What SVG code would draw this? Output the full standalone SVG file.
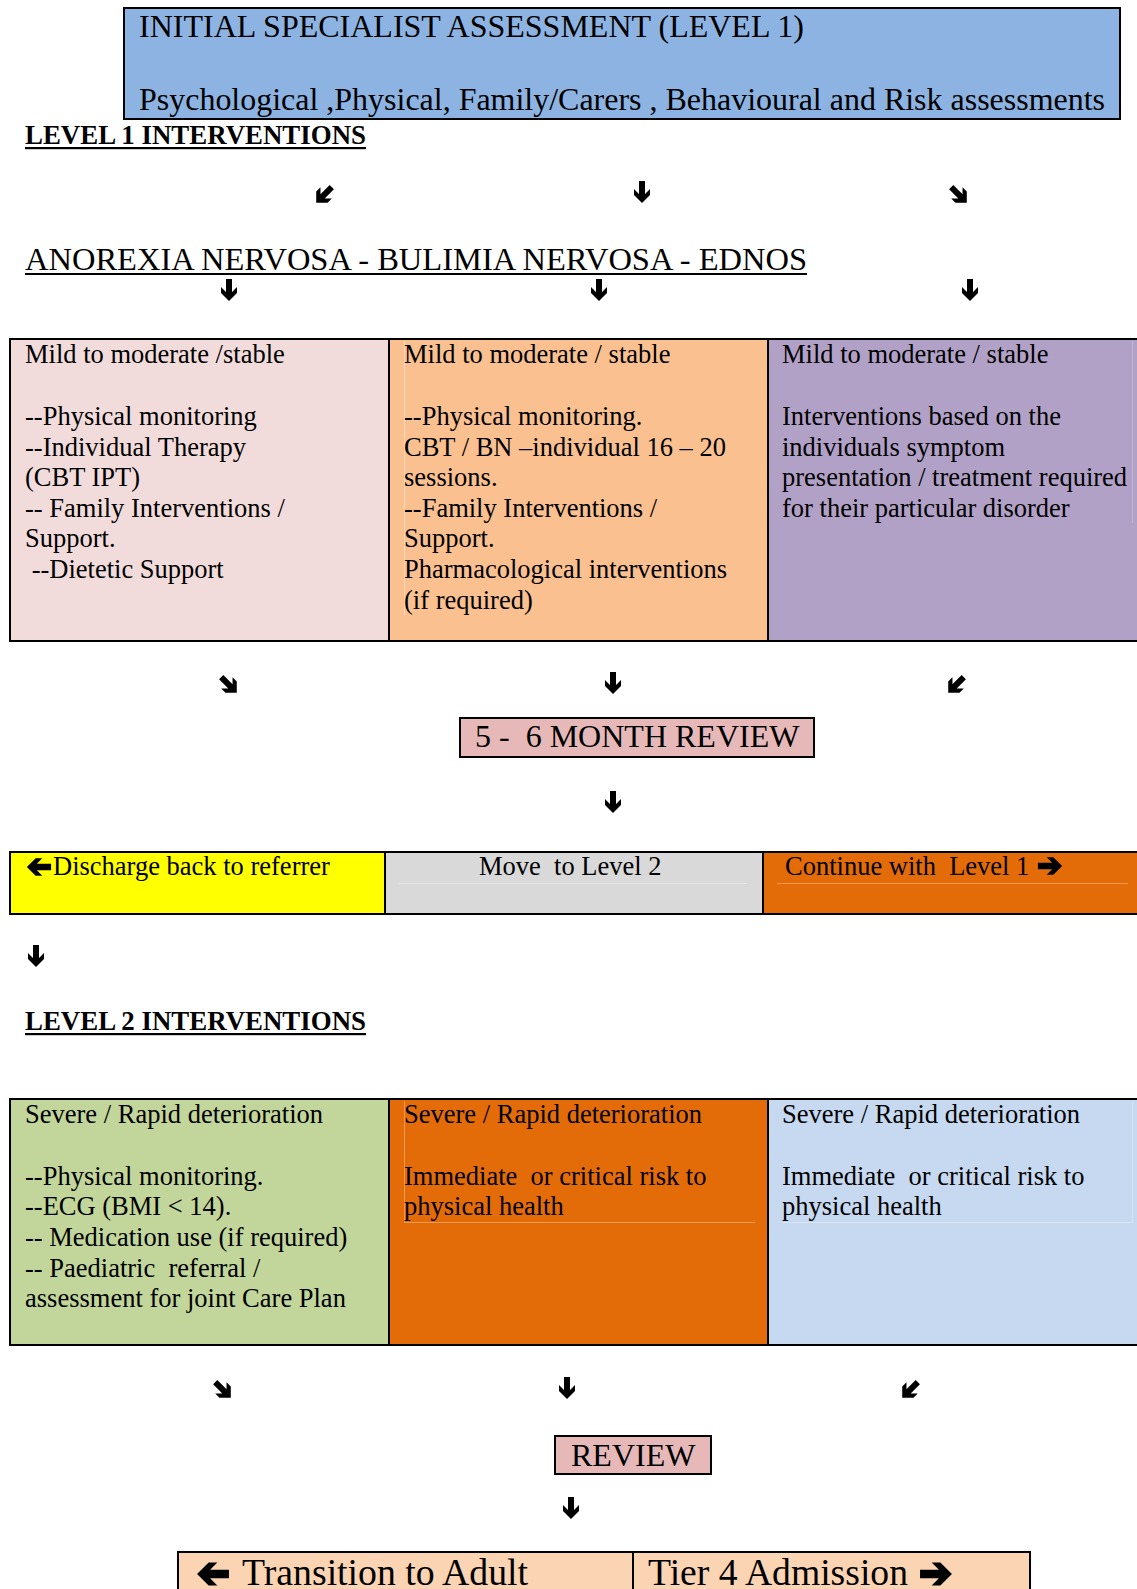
<svg xmlns="http://www.w3.org/2000/svg" xmlns:xlink="http://www.w3.org/1999/xlink" width="1137" height="1589" viewBox="0 0 1137 1589" xml:space="preserve">
<defs>
<style>
text{font-family:"Liberation Serif","Times New Roman",serif;fill:#000;white-space:pre}
.t{font-size:26.5px}
.big{font-size:32px}
.huge{font-size:37.5px}
.bold{font-size:27px;font-weight:bold}
.cell{stroke:#000;stroke-width:2}
.faint{fill:none;stroke-width:1}
</style>
<path id="arw" d="M-3,-11 H3 V2 L8,-3 V3 L0,11 L-8,3 V-3 L-3,2 Z" fill="#000"/>
</defs>
<rect width="1137" height="1589" fill="#fff"/>

<g id="initial-assessment">
<rect class="cell" x="124" y="8" width="996" height="111" fill="#8db3e2"/>
<text class="big" x="139" y="37">INITIAL SPECIALIST ASSESSMENT (LEVEL 1)</text>
<text class="big" x="139" y="110" textLength="966" lengthAdjust="spacingAndGlyphs">Psychological ,Physical, Family/Carers , Behavioural and Risk assessments</text>
</g>

<g id="level1-heading">
<text class="bold" x="25" y="144" textLength="341" lengthAdjust="spacingAndGlyphs">LEVEL 1 INTERVENTIONS</text>
<rect x="25" y="147" width="341" height="2.2" fill="#000"/>
</g>

<g id="disorders">
<text class="big" x="25" y="270" textLength="782" lengthAdjust="spacingAndGlyphs">ANOREXIA NERVOSA - BULIMIA NERVOSA - EDNOS</text>
<rect x="25" y="273" width="782" height="2" fill="#000"/>
</g>

<g id="level1-mild-an">
<rect class="cell" x="10" y="339" width="379" height="302" fill="#f2dcdb"/>
<text class="t" x="25" y="363">Mild to moderate /stable</text>
<text class="t" x="25" y="425">--Physical monitoring</text>
<text class="t" x="25" y="456">--Individual Therapy</text>
<text class="t" x="25" y="486">(CBT IPT)</text>
<text class="t" x="25" y="517">-- Family Interventions /</text>
<text class="t" x="25" y="547">Support.</text>
<text class="t" x="25" y="578"> --Dietetic Support</text>
</g>

<g id="level1-mild-bn">
<rect class="cell" x="389" y="339" width="379" height="302" fill="#fac090"/>
<line class="faint" x1="404.5" y1="341" x2="404.5" y2="615" stroke="#fcd9b8"/>
<text class="t" x="404" y="363">Mild to moderate / stable</text>
<text class="t" x="404" y="425">--Physical monitoring.</text>
<text class="t" x="404" y="456">CBT / BN –individual 16 – 20</text>
<text class="t" x="404" y="486">sessions.</text>
<text class="t" x="404" y="517">--Family Interventions /</text>
<text class="t" x="404" y="547">Support.</text>
<text class="t" x="404" y="578">Pharmacological interventions</text>
<text class="t" x="404" y="609">(if required)</text>
</g>

<g id="level1-mild-ednos">
<rect class="cell" x="768" y="339" width="380" height="302" fill="#b2a1c7"/>
<line class="faint" x1="1132.5" y1="341" x2="1132.5" y2="523" stroke="#c3b6d4"/>
<text class="t" x="782" y="363">Mild to moderate / stable</text>
<text class="t" x="782" y="425">Interventions based on the</text>
<text class="t" x="782" y="456">individuals symptom</text>
<text class="t" x="782" y="486">presentation / treatment required</text>
<text class="t" x="782" y="517">for their particular disorder</text>
</g>

<g id="review-6-month">
<rect class="cell" x="460" y="718" width="354" height="39" fill="#e6b9b8"/>
<text class="big" x="475" y="747">5 -  6 MONTH REVIEW</text>
</g>

<g id="outcome-discharge">
<rect class="cell" x="10" y="852" width="375" height="62" fill="#ffff00"/>
<text class="t" x="53" y="875">Discharge back to referrer</text>
</g>

<g id="outcome-level2">
<rect class="cell" x="385" y="852" width="378" height="62" fill="#d9d9d9"/>
<line class="faint" x1="399" y1="883.5" x2="747" y2="883.5" stroke="#e6e6e6"/>
<text class="t" x="479" y="875">Move  to Level 2</text>
</g>

<g id="outcome-continue">
<rect class="cell" x="763" y="852" width="385" height="62" fill="#e36c09"/>
<line class="faint" x1="777" y1="883.5" x2="1128" y2="883.5" stroke="#ee9a55"/>
<text class="t" x="785" y="875">Continue with  Level 1</text>
</g>

<g id="level2-heading">
<text class="bold" x="25" y="1030" textLength="341" lengthAdjust="spacingAndGlyphs">LEVEL 2 INTERVENTIONS</text>
<rect x="25" y="1033" width="341" height="2.2" fill="#000"/>
</g>

<g id="level2-severe-an">
<rect class="cell" x="10" y="1099" width="379" height="246" fill="#c2d69b"/>
<text class="t" x="25" y="1123">Severe / Rapid deterioration</text>
<text class="t" x="25" y="1185">--Physical monitoring.</text>
<text class="t" x="25" y="1215">--ECG (BMI &lt; 14).</text>
<text class="t" x="25" y="1246">-- Medication use (if required)</text>
<text class="t" x="25" y="1277">-- Paediatric  referral /</text>
<text class="t" x="25" y="1307">assessment for joint Care Plan</text>
</g>

<g id="level2-severe-bn">
<rect class="cell" x="389" y="1099" width="379" height="246" fill="#e36c09"/>
<path class="faint" d="M404.5,1101 V1222.5 H755" stroke="#ee9a55"/>
<text class="t" x="404" y="1123">Severe / Rapid deterioration</text>
<text class="t" x="404" y="1185">Immediate  or critical risk to</text>
<text class="t" x="404" y="1215">physical health</text>
</g>

<g id="level2-severe-ednos">
<rect class="cell" x="768" y="1099" width="380" height="246" fill="#c6d9f1"/>
<path class="faint" d="M782,1222.5 H1132.5 V1101" stroke="#d8e4f4"/>
<text class="t" x="782" y="1123">Severe / Rapid deterioration</text>
<text class="t" x="782" y="1185">Immediate  or critical risk to</text>
<text class="t" x="782" y="1215">physical health</text>
</g>

<g id="review">
<rect class="cell" x="555" y="1436" width="156" height="38" fill="#e6b9b8"/>
<text class="big" x="571" y="1466">REVIEW</text>
</g>

<g id="transition-adult">
<rect class="cell" x="178" y="1552" width="455" height="60" fill="#fbd4b4"/>
<text class="huge" x="242" y="1585" textLength="286" lengthAdjust="spacingAndGlyphs">Transition to Adult</text>
</g>

<g id="tier4-admission">
<rect class="cell" x="633" y="1552" width="397" height="60" fill="#fbd4b4"/>
<text class="huge" x="648" y="1585" textLength="260" lengthAdjust="spacingAndGlyphs">Tier 4 Admission</text>
</g>

<g id="connectors">
<use xlink:href="#arw" transform="translate(324,195) rotate(45)"/>
<use xlink:href="#arw" transform="translate(642,192)"/>
<use xlink:href="#arw" transform="translate(959,195) rotate(-45)"/>
<use xlink:href="#arw" transform="translate(229,290)"/>
<use xlink:href="#arw" transform="translate(599,290)"/>
<use xlink:href="#arw" transform="translate(970,290)"/>
<use xlink:href="#arw" transform="translate(229,685) rotate(-45)"/>
<use xlink:href="#arw" transform="translate(613,683)"/>
<use xlink:href="#arw" transform="translate(956,685) rotate(45)"/>
<use xlink:href="#arw" transform="translate(613,802)"/>
<use xlink:href="#arw" transform="translate(36,956)"/>
<use xlink:href="#arw" transform="translate(223,1390) rotate(-45)"/>
<use xlink:href="#arw" transform="translate(567,1388)"/>
<use xlink:href="#arw" transform="translate(910,1390) rotate(45)"/>
<use xlink:href="#arw" transform="translate(571,1508)"/>
<use xlink:href="#arw" transform="translate(39,867) rotate(90) scale(1.1)"/>
<use xlink:href="#arw" transform="translate(1050,866) rotate(-90) scale(1.1)"/>
<use xlink:href="#arw" transform="translate(213,1574) rotate(90) scale(1.45)"/>
<use xlink:href="#arw" transform="translate(936,1574) rotate(-90) scale(1.45)"/>
</g>
</svg>
